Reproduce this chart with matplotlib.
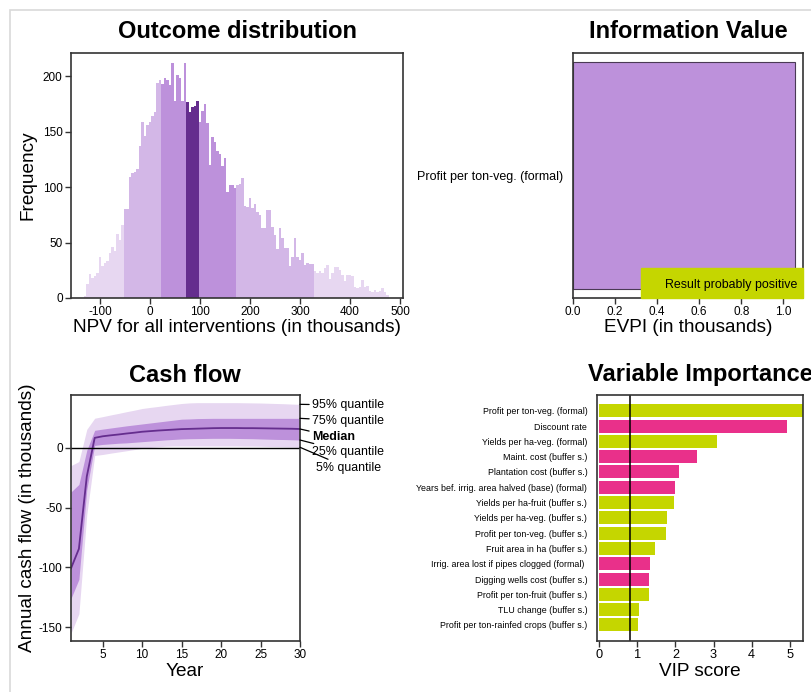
import numpy as np
import matplotlib
matplotlib.use("Agg")
import matplotlib.pyplot as plt
from matplotlib.patches import Rectangle

plt.rcParams['font.family'] = ['Liberation Sans', 'DejaVu Sans']
plt.rcParams['axes.unicode_minus'] = False
plt.rcParams['xtick.direction'] = 'out'
plt.rcParams['ytick.direction'] = 'out'

# ---- outcome distribution (histogram counts, bin width 5 starting at -133)
bin_start = -133
bin_width = 5
counts = [2, 13, 22, 18, 20, 23, 37, 29, 32, 33, 41, 46, 42, 58, 52, 66,
          80, 80, 109, 113, 114, 116, 137, 159, 146, 156, 159, 164, 168, 194,
          197, 193, 198, 197, 192, 212, 178, 201, 198, 178, 212, 177, 168, 172,
          173, 178, 159, 169, 175, 158, 120, 145, 141, 133, 130, 119, 126, 96,
          102, 102, 99, 102, 103, 108, 83, 82, 90, 81, 85, 78, 75, 63, 63, 79,
          79, 64, 57, 44, 63, 54, 45, 45, 29, 37, 54, 37, 34, 41, 30, 32, 31,
          31, 24, 23, 24, 23, 27, 30, 17, 23, 28, 28, 25, 21, 15, 21, 21, 20,
          10, 9, 10, 16, 10, 11, 6, 5, 7, 5, 6, 9, 5, 3]
# quantile borders 5%, 25%, 45%, 55%, 75%, 95%
npv_quantiles = [-53, 22, 72, 97, 172, 327]

# ---- information value
evpi_var = ['Profit per ton-veg. (formal)']
evpi_val = [1.054]

# ---- cash flow quantiles per year
years = np.arange(1, 31)
cf_q05 = [-155, -138.8, -55.9, -6.5, -5.7, -4.6, -3.6, -2.6, -1.6, -0.6, 0.1, 0.7,
          1.2, 1.4, 1.4, 1.4, 1.4, 1.4, 1.4, 1.4, 1.4, 1.4, 1.3, 1.3, 1.2, 1.0,
          0.9, 0.7, 0.5, 0.3]
cf_q25 = [-126, -110, -35, 1.9, 2.7, 3.2, 3.7, 4.0, 4.5, 5.0, 5.5, 6.0, 6.5, 6.9,
          7.3, 7.5, 7.6, 7.7, 7.8, 7.8, 7.8, 7.7, 7.6, 7.5, 7.3, 7.1, 6.9, 6.8,
          6.6, 6.4]
cf_med = [-100.8, -84.5, -24, 8.2, 9.5, 10.3, 11.0, 11.8, 12.5, 13.3, 13.8, 14.3,
          14.7, 15.1, 15.5, 15.7, 15.9, 16.1, 16.3, 16.4, 16.4, 16.4, 16.3, 16.3,
          16.2, 16.1, 16.0, 15.9, 15.8, 15.6]
cf_q75 = [-37, -30.7, -2.1, 14.5, 15.5, 16.4, 17.3, 18.2, 19.0, 19.8, 20.6, 21.4,
          22.2, 23.0, 23.8, 24.0, 24.3, 24.4, 24.5, 24.5, 24.5, 24.5, 24.5, 24.5,
          24.5, 24.5, 24.5, 24.5, 24.5, 24.5]
cf_q95 = [-15, -11.6, 15.3, 24.6, 25.9, 27.3, 28.6, 30.0, 31.3, 32.7, 33.6, 34.4,
          35.3, 36.1, 36.9, 37.4, 37.6, 37.6, 37.6, 37.6, 37.6, 37.6, 37.5, 37.4,
          37.3, 37.1, 36.9, 36.7, 36.4, 36.2]
cf_labels = ['95% quantile', '75% quantile', 'Median', '25% quantile', '5% quantile']

# ---- variable importance
vip_vars = ['Profit per ton-veg. (formal)', 'Discount rate', 'Yields per ha-veg. (formal)',
            'Maint. cost (buffer s.)', 'Plantation cost (buffer s.)',
            'Years bef. irrig. area halved (base) (formal)', 'Yields per ha-fruit (buffer s.)',
            'Yields per ha-veg. (buffer s.)', 'Profit per ton-veg. (buffer s.)',
            'Fruit area in ha (buffer s.)', 'Irrig. area lost if pipes clogged (formal) ',
            'Digging wells cost (buffer s.)', 'Profit per ton-fruit (buffer s.)',
            'TLU change (buffer s.)', 'Profit per ton-rainfed crops (buffer s.)']
vip_score = [5.5, 4.93, 3.08, 2.56, 2.10, 1.99, 1.96, 1.79, 1.75, 1.47, 1.33, 1.31,
             1.31, 1.05, 1.02]
vip_positive = [True, False, True, False, False, False, True, True, True, True,
                False, False, True, True, True]
vip_threshold = 0.8

# colours
c_lightest = '#e7d7f1'
c_light = '#d3b7e7'
c_mid = '#bd91db'
c_dark = '#652d8e'
c_green = '#c5d600'
c_pink = '#e9308a'
spine_col = '#333333'

W, H = 811, 692
fig = plt.figure(figsize=(W / 100, H / 100), dpi=100)


def px_axes(l, t, r, b):
    return fig.add_axes([l / W, 1 - b / H, (r - l) / W, (b - t) / H])


def style(ax):
    for s in ax.spines.values():
        s.set_color(spine_col)
        s.set_linewidth(1.2)
    ax.tick_params(labelsize=8.5, color=spine_col, width=1, length=4, pad=2)


TITLE = 17
LABEL = 13.7

# page border
fig.add_artist(Rectangle((10 / W, -0.1), 1.2, 1 - 10 / H + 0.1, transform=fig.transFigure,
                         fill=False, edgecolor='#d9d9d9', linewidth=1.2))

# ---------- histogram
ax1 = px_axes(71, 53, 403, 298)
edges = bin_start + bin_width * np.arange(len(counts))
hist_cols = []
for e in edges:
    c = e + bin_width / 2
    if c < npv_quantiles[0] or c > npv_quantiles[5]:
        hist_cols.append(c_lightest)
    elif c < npv_quantiles[1] or c > npv_quantiles[4]:
        hist_cols.append(c_light)
    elif c < npv_quantiles[2] or c > npv_quantiles[3]:
        hist_cols.append(c_mid)
    else:
        hist_cols.append(c_dark)
ax1.bar(edges, counts, width=bin_width, align='edge', color=hist_cols, linewidth=0)
ax1.set_xlim(-158, 506)
ax1.set_ylim(0, 221)
ax1.set_xticks(range(-100, 501, 100))
ax1.set_yticks(range(0, 201, 50))
style(ax1)
fig.text(237 / W, 1 - 32 / H, 'Outcome distribution', ha='center', va='center',
         fontsize=TITLE, fontweight='bold')
fig.text(237 / W, 1 - 327 / H, 'NPV for all interventions (in thousands)', ha='center',
         va='center', fontsize=LABEL)
fig.text(28 / W, 1 - 175 / H, 'Frequency', ha='center', va='center', rotation=90,
         fontsize=LABEL)

# ---------- information value
ax2 = px_axes(573, 53, 803, 298)
ax2.barh([0], evpi_val, height=0.929, color=c_mid, edgecolor='#4a3a55', linewidth=0.8)
ax2.set_xlim(0, 1.094)
ax2.set_ylim(-0.5, 0.5)
ax2.set_yticks([0])
ax2.set_yticklabels(evpi_var)
ax2.set_xticks(np.arange(0, 1.01, 0.2))
ax2.set_xticklabels(['0.0', '0.2', '0.4', '0.6', '0.8', '1.0'])
style(ax2)
ax2.tick_params(axis='y', length=0, pad=7, labelsize=9)
ax2.add_patch(Rectangle((0.296, 0), 0.704, 0.123, transform=ax2.transAxes,
                        color=c_green, zorder=3, clip_on=False))
ax2.text(0.975, 0.055, 'Result probably positive', transform=ax2.transAxes,
         ha='right', va='center', fontsize=8.9, zorder=4)
fig.text(688 / W, 1 - 32 / H, 'Information Value', ha='center', va='center',
         fontsize=TITLE, fontweight='bold')
fig.text(688 / W, 1 - 327 / H, 'EVPI (in thousands)', ha='center', va='center',
         fontsize=LABEL)

# ---------- cash flow
ax3 = px_axes(71, 395, 300, 641)
ax3.fill_between(years, cf_q05, cf_q95, color=c_lightest, linewidth=0)
ax3.fill_between(years, cf_q25, cf_q75, color=c_mid, linewidth=0)
ax3.plot(years, cf_med, color=c_dark, linewidth=1.3)
ax3.axhline(0, color='black', linewidth=1)
ax3.set_xlim(1, 30)
ax3.set_ylim(-161.5, 44)
ax3.set_xticks(range(5, 31, 5))
ax3.set_yticks([0, -50, -100, -150])
style(ax3)
ends = [cf_q95[-1], cf_q75[-1], cf_med[-1], cf_q25[-1], cf_q05[-1]]
for i, (lab, val) in enumerate(zip(cf_labels, ends)):
    x_off = 1.07 if i == 4 else 1.052
    ax3.annotate(lab, xy=(30, val), xycoords='data',
                 xytext=(x_off, 0.959 - i * 0.064), textcoords='axes fraction',
                 ha='left', va='center', fontsize=8.9,
                 fontweight='bold' if lab == 'Median' else 'normal',
                 arrowprops=dict(arrowstyle='-', color='black', linewidth=0.9,
                                 shrinkA=0, shrinkB=0))
fig.text(185 / W, 1 - 375 / H, 'Cash flow', ha='center', va='center',
         fontsize=TITLE, fontweight='bold')
fig.text(185 / W, 1 - 671 / H, 'Year', ha='center', va='center', fontsize=LABEL)
fig.text(28 / W, 1 - 518 / H, 'Annual cash flow (in thousands)', ha='center',
         va='center', rotation=90, fontsize=LABEL)

# ---------- variable importance
ax4 = px_axes(597, 395, 803, 641)
pos = np.arange(len(vip_vars))
ax4.barh(pos, vip_score, height=0.85,
         color=[c_green if p else c_pink for p in vip_positive], linewidth=0)
ax4.axvline(vip_threshold, color='black', linewidth=1.1)
ax4.set_xlim(-0.06, 5.35)
ax4.set_ylim(len(vip_vars) - 1 + 1.05, -1.03)
ax4.set_yticks(pos)
ax4.set_yticklabels(vip_vars)
ax4.set_xticks(range(0, 6))
style(ax4)
ax4.tick_params(axis='y', length=0, pad=7, labelsize=6.4)
ax4.tick_params(axis='x', labelsize=9.2, pad=1.5)
fig.text(700 / W, 1 - 672 / H, 'VIP score', ha='center', va='center', fontsize=LABEL)
fig.text(700 / W, 1 - 375 / H, 'Variable Importance', ha='center', va='center',
         fontsize=TITLE, fontweight='bold')

fig.savefig('out.png', dpi=100)
